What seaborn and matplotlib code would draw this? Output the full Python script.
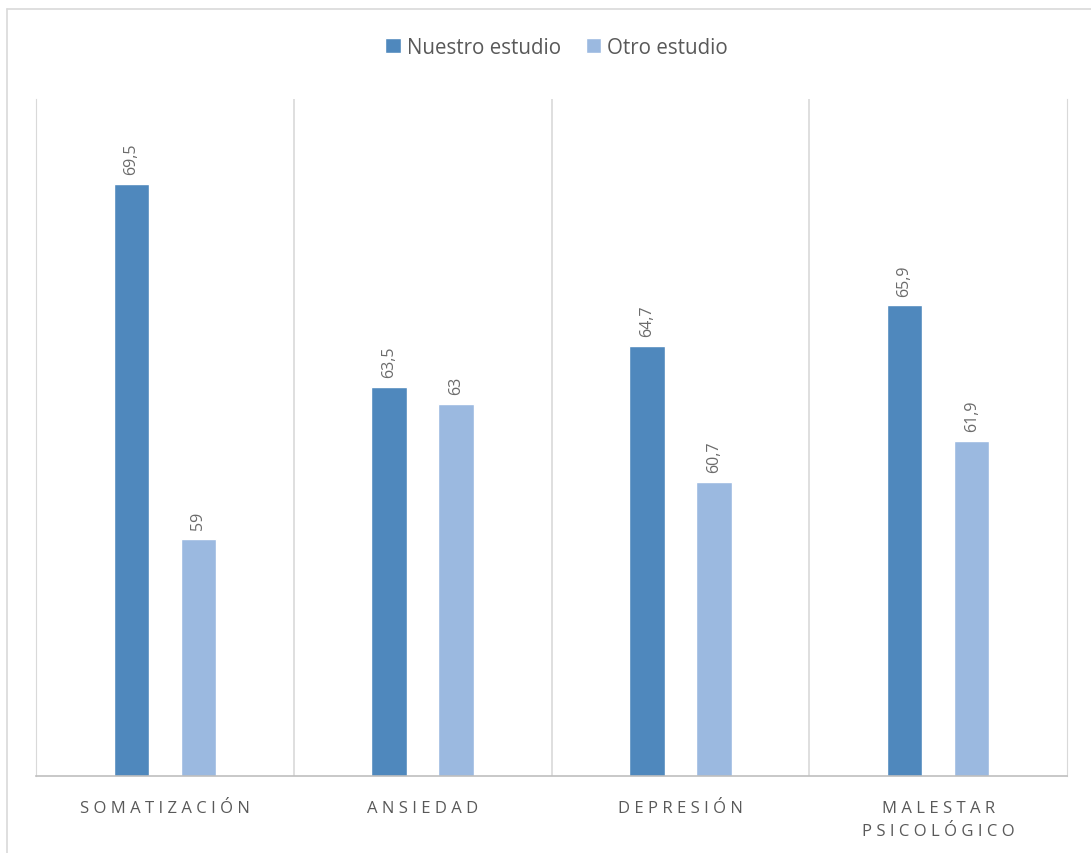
import pandas as pd
import matplotlib.pyplot as plt
import seaborn as sns
from matplotlib.lines import Line2D
from matplotlib.patches import Patch

categorias = ['SOMATIZACIÓN', 'ANSIEDAD', 'DEPRESIÓN', 'MALESTAR\nPSICOLÓGICO']
nuestro = [69.5, 63.5, 64.7, 65.9]
otro = [59, 63, 60.7, 61.9]
series = ['Nuestro estudio', 'Otro estudio']
colores = ['#4F88BD', '#9BB9E0']

df = pd.DataFrame({
    'cat': categorias * 2,
    'serie': [series[0]] * 4 + [series[1]] * 4,
    'valor': nuestro + otro,
})

sns.set_style('white')
plt.rcParams['font.family'] = ['Open Sans', 'DejaVu Sans']
gris = '#595959'

fig = plt.figure(figsize=(10.91, 8.54), dpi=100)
ax = fig.add_axes([36 / 1091, 1 - 777 / 854, (1067 - 36) / 1091, (777 - 100) / 854])

sns.barplot(data=df, x='cat', y='valor', hue='serie', palette=colores,
            width=0.52, gap=0.47, ax=ax, legend=False, saturation=1)

ax.set_ylim(52, 72)
ax.set_xlim(-0.5, 3.5)
for c in ax.containers:
    labels = [f'{v:g}'.replace('.', ',') for v in c.datavalues]
    ax.bar_label(c, labels=labels, rotation=90, padding=7, fontsize=11.5, color='#6b6b6b')

for x in [0.5, 1.5, 2.5]:
    ax.axvline(x, color='#D9D9D9', lw=1.2, zorder=0)
for s in ['top', 'right', 'left']:
    ax.spines[s].set_visible(False)
ax.spines['left'].set_visible(True)
ax.spines['left'].set_color('#D9D9D9')
ax.spines['right'].set_visible(True)
ax.spines['right'].set_color('#D9D9D9')
ax.spines['bottom'].set_color('#BFBFBF')
ax.spines['bottom'].set_linewidth(1.2)


def espaciar(texto):
    return '\n'.join(' '.join(linea) for linea in texto.split('\n'))


ax.set_yticks([])
ax.set_xlabel('')
ax.set_ylabel('')
ax.set_xticks(range(4))
ax.set_xticklabels([espaciar(c) for c in categorias], fontsize=12, color=gris, linespacing=1.65)
ax.tick_params(axis='x', length=0, pad=17)

handles = [Patch(facecolor=colores[i], label=series[i]) for i in range(2)]
fig.legend(handles=handles, loc='center', bbox_to_anchor=(556.5 / 1091, 1 - 48 / 854), ncol=2,
           frameon=False, fontsize=14.8, labelcolor=gris, handlelength=0.75, handleheight=0.75,
           handletextpad=0.3, columnspacing=1.2)

# borde exterior del gráfico
fig.add_artist(Line2D([7 / 1091, 7 / 1091], [0, 1 - 10 / 854], color='#D9D9D9', lw=1.2))
fig.add_artist(Line2D([7 / 1091, 1], [1 - 10 / 854, 1 - 10 / 854], color='#D9D9D9', lw=1.2))

fig.savefig('out.png', dpi=100)
